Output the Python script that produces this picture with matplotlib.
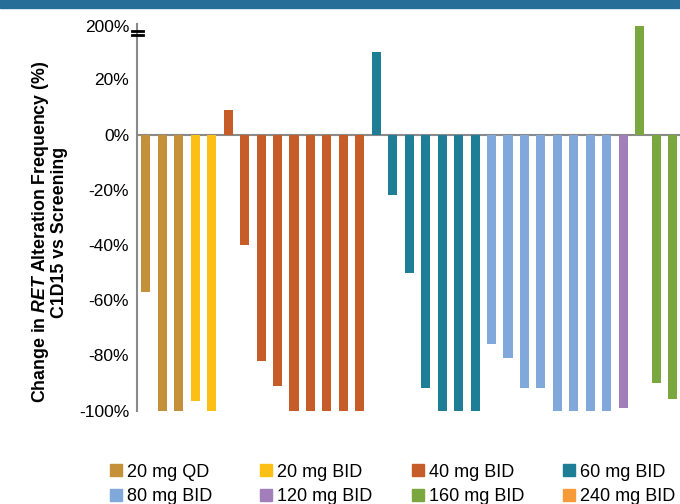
import numpy as np
import matplotlib.pyplot as plt
from matplotlib.patches import Rectangle

plt.rcParams['font.family'] = ['Liberation Sans', 'DejaVu Sans']
plt.rcParams['mathtext.fontset'] = 'custom'
plt.rcParams['mathtext.it'] = 'Liberation Sans:italic:bold'

# change in RET alteration frequency per patient (%), grouped by dose
qd20 = [-57, -100, -100]
bid20 = [-96.5, -100]
bid40 = [9, -40, -82, -91, -100, -100, -100, -100, -100]
bid60 = [31, -22, -50, -92, -100, -100, -100]
bid80 = [-76, -81, -92, -92, -100, -100, -100, -100]
bid120 = [-99]
bid160 = [200, -90, -96]
bid240 = []

groups = ['20 mg QD', '20 mg BID', '40 mg BID', '60 mg BID',
          '80 mg BID', '120 mg BID', '160 mg BID', '240 mg BID']
group_values = [qd20, bid20, bid40, bid60, bid80, bid120, bid160, bid240]
colors = ['#C4903A', '#FBBF16', '#C65C28', '#1E7E95',
          '#80A8DA', '#A27EBA', '#7BA740', '#F79A38']

yticks = [-100, -80, -60, -40, -20, 0, 20, 200]

# broken axis: everything above 30% is squeezed
BREAK = 30
K = 9.5 / 170


def forward(v):
    v = np.asarray(v, dtype=float)
    return np.where(v > BREAK, BREAK + (v - BREAK) * K, v)


def inverse(v):
    v = np.asarray(v, dtype=float)
    return np.where(v > BREAK, BREAK + (v - BREAK) / K, v)


fig = plt.figure(figsize=(6.8, 5.04), dpi=100)
ax = fig.add_axes([0.2022, 0.1855, 0.7978, 0.7663])
ax.set_yscale('function', functions=(forward, inverse))

values = []
bar_colors = []
for vals, c in zip(group_values, colors):
    values += vals
    bar_colors += [c] * len(vals)
x = np.arange(len(values))

ax.axhline(0, color='#8a8a8a', lw=1.5, zorder=1)
ax.bar(x, values, width=0.55, color=bar_colors, zorder=2)

ax.set_xlim(-0.51, len(values) - 1 + 0.45)
ax.set_ylim(-100, BREAK + 10 / K)
ax.set_yticks(yticks)
ax.set_yticklabels([f'{t}%' for t in yticks], fontsize=12.5)
ax.tick_params(axis='y', length=0, pad=6)
ax.set_xticks([])

for s in ['top', 'right', 'bottom']:
    ax.spines[s].set_visible(False)
ax.spines['left'].set_color('#8a8a8a')
ax.spines['left'].set_linewidth(1.5)

# break marks on the y axis
for yy in [0.971, 0.983]:
    ax.plot([-0.011, 0.011], [yy, yy], transform=ax.transAxes,
            color='black', lw=2, clip_on=False, zorder=5)

ax.set_ylabel('Change in $\\mathit{RET}$ Alteration Frequency (%)\nC1D15 vs Screening',
              fontsize=12.8, fontweight='bold', multialignment='center',
              linespacing=1.0)
ax.yaxis.set_label_coords(-0.128, 0.462)

# legend: four columns of two entries each
col_x = [110, 260, 412, 563]
for col, left in enumerate(col_x):
    idx = [col, col + 4]
    fig.legend([Rectangle((0, 0), 1, 1, color=colors[i]) for i in idx],
               [groups[i] for i in idx],
               loc='upper left', bbox_to_anchor=(left / 680, 0.0802),
               frameon=False, fontsize=13, handlelength=0.65,
               handleheight=0.65, handletextpad=0.3, labelspacing=0.41,
               borderpad=0, borderaxespad=0)

# header band
fig.patches.append(Rectangle((0, 1 - 8 / 504), 1, 8 / 504,
                             transform=fig.transFigure, color='#276F99'))

fig.savefig('out.png', dpi=100)
